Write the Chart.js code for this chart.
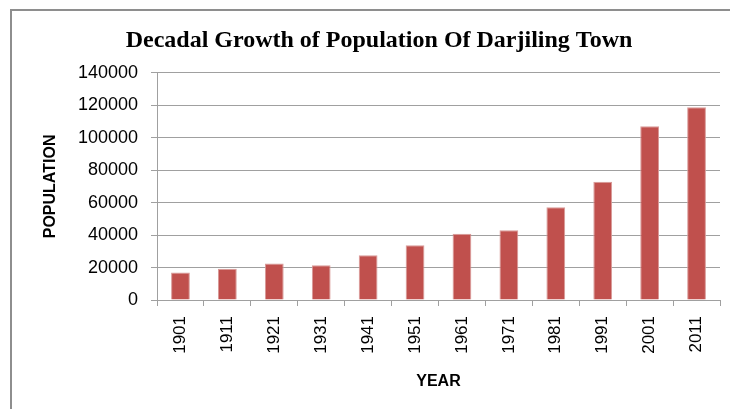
<!DOCTYPE html>
<html>
<head>
<meta charset="utf-8">
<script src="https://cdn.jsdelivr.net/npm/chart.js@4/dist/chart.umd.min.js"></script>
<style>
  html, body { margin: 0; padding: 0; background: #fff; }
  #wrap { position: relative; width: 730px; height: 409px; }
  #frame { position: absolute; left: 10px; top: 9px; right: 0; bottom: 0;
           border-top: 2px solid #8e8e8e; border-left: 2px solid #8e8e8e; }
  canvas { position: absolute; left: 0; top: 0; }
</style>
</head>
<body>
<div id="wrap">
  <div id="frame"></div>
  <canvas id="c" width="730" height="409"></canvas>
</div>
<script>
const years = ['1901','1911','1921','1931','1941','1951','1961','1971','1981','1991','2001','2011']
const population = [17000, 19200, 22500, 21400, 27500, 33800, 40800, 43000, 57200, 72800, 107000, 118800]
const yTicks = [0, 20000, 40000, 60000, 80000, 100000, 120000, 140000]

const chartTitle = 'Decadal Growth of Population Of Darjiling Town'
const xTitle = 'YEAR'
const yTitle = 'POPULATION'

const ctx = document.getElementById('c').getContext('2d')

new Chart(ctx, {
  type: 'bar',
  data: {
    labels: years,
    datasets: [{
      label: 'Population',
      data: population,
      backgroundColor: '#c0504d',
      borderColor: '#d89a98',
      borderWidth: 1,
      barPercentage: 0.4,
      categoryPercentage: 1
    }]
  },
  options: {
    responsive: false,
    animation: false,
    layout: { padding: { left: 38, right: 10, top: 0, bottom: 0 } },
    plugins: {
      legend: { display: false },
      tooltip: { enabled: false },
      title: {
        display: true,
        text: chartTitle,
        color: '#000',
        font: { family: 'Liberation Serif', size: 24, weight: 'bold' },
        padding: { top: 26, bottom: 18 }
      }
    },
    scales: {
      x: {
        grid: { display: true, drawOnChartArea: false, offset: true, tickLength: 6, color: '#a0a0a0' },
        border: { color: '#a0a0a0' },
        ticks: {
          color: '#000', maxRotation: 90, minRotation: 90, padding: 10,
          font: { family: 'Liberation Sans', size: 17 }
        },
        title: {
          display: true, text: xTitle, color: '#000',
          font: { family: 'Liberation Sans', size: 16, weight: 'bold' },
          padding: { top: 4, bottom: 18 }
        },
        afterFit: s => { s.height = 109 }
      },
      y: {
        min: 0,
        max: 140000,
        afterBuildTicks: s => { s.ticks = yTicks.map(v => ({ value: v })) },
        grid: { color: '#a0a0a0', tickLength: 6 },
        border: { color: '#a0a0a0' },
        ticks: {
          color: '#000', padding: 13,
          font: { family: 'Liberation Sans', size: 18 },
          callback: v => String(v)
        },
        title: {
          display: true, text: yTitle, color: '#000',
          font: { family: 'Liberation Sans', size: 16, weight: 'bold' },
          padding: { top: 3, bottom: 0 }
        },
        afterFit: s => { s.width = 119 }
      }
    }
  }
})
</script>
</body>
</html>
